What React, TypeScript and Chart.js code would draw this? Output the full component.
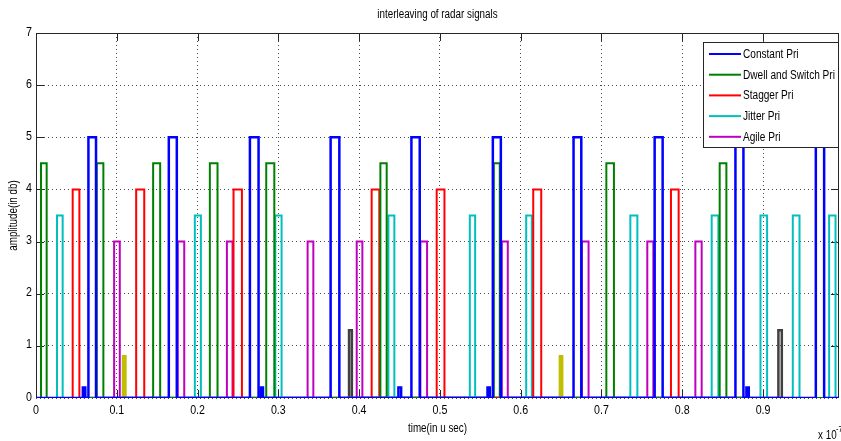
import React, { useEffect, useRef } from "react";
import { Chart, registerables } from "chart.js";

Chart.register(...registerables);

const X_MAX = 0.994;
const Y_MAX = 7;
const X_TICKS = [0, 0.1, 0.2, 0.3, 0.4, 0.5, 0.6, 0.7, 0.8, 0.9];
const Y_TICKS = [0, 1, 2, 3, 4, 5, 6, 7];
const X_TICK_LABELS = ["0", "0.1", "0.2", "0.3", "0.4", "0.5", "0.6", "0.7", "0.8", "0.9"];
const Y_TICK_LABELS = ["0", "1", "2", "3", "4", "5", "6", "7"];

const TITLE = "interleaving of radar signals";
const X_LABEL = "time(in u sec)";
const Y_LABEL = "amplitude(in db)";

const SERIES_LABELS = ["Constant Pri", "Dwell and Switch Pri", "Stagger Pri", "Jitter Pri", "Agile Pri"];
const SERIES_HEIGHTS = [5, 4.5, 4, 3.5, 3];

const constantPulses = [
  [0.0649, 0.0743], [0.1644, 0.1743], [0.2648, 0.2755], [0.3647, 0.3755], [0.4647, 0.475],
  [0.5655, 0.5754], [0.6654, 0.675], [0.7658, 0.7757], [0.8658, 0.8757], [0.9653, 0.9756],
];
const dwellPulses = [
  [0.0062, 0.0132], [0.0752, 0.0834], [0.145, 0.1537], [0.2152, 0.2247], [0.285, 0.295],
  [0.4263, 0.4341], [0.5667, 0.5741], [0.706, 0.7154], [0.8463, 0.8546],
];
const staggerPulses = [
  [0.0454, 0.0537], [0.124, 0.134], [0.2445, 0.2549], [0.4155, 0.425], [0.496, 0.5056],
  [0.6155, 0.6254], [0.786, 0.7955],
];
const jitterPulses = [
  [0.026, 0.033], [0.1966, 0.2041], [0.2962, 0.304], [0.4362, 0.4436], [0.537, 0.5436],
  [0.6068, 0.6138], [0.7357, 0.7444], [0.8364, 0.8447], [0.8968, 0.905], [0.9368, 0.9451],
  [0.9818, 0.9897],
];
const agilePulses = [
  [0.0967, 0.1037], [0.1755, 0.1835], [0.2363, 0.2433], [0.3362, 0.3433], [0.397, 0.404],
  [0.4758, 0.4841], [0.5766, 0.584], [0.6757, 0.684], [0.7567, 0.7642], [0.8162, 0.824],
];

// unlabeled small pulses
const smallBluePulses = [[0.058, 0.061], [0.278, 0.281], [0.4486, 0.452], [0.5589, 0.5617], [0.8794, 0.8823]];
const SMALL_BLUE_H = 0.2;
const yellowPulses = [[0.1078, 0.1107], [0.6485, 0.6513]];
const YELLOW_H = 0.8;
const darkPulses = [[0.3875, 0.391], [0.919, 0.9232]];
const DARK_H = 1.3;

const COLORS = ["#0000ff", "#008000", "#ff0000", "#00bfbf", "#bf00bf"];
const SMALL_COLORS = ["#0000ff", "#bfbf00", "#404040"];

const FONT = '"Liberation Sans", Arial, sans-serif';
const NARROW = 0.82;

function pulseLine(pulses: number[][], h: number, full: boolean) {
  const pts: { x: number; y: number }[] = [];
  if (full) pts.push({ x: 0, y: 0 });
  for (const [s, e] of pulses) {
    pts.push({ x: s, y: 0 }, { x: s, y: h }, { x: e, y: h }, { x: e, y: 0 });
  }
  if (full) pts.push({ x: X_MAX, y: 0 });
  return pts;
}

function narrowText(ctx: CanvasRenderingContext2D, text: string, x: number, y: number, size: number, align: CanvasTextAlign) {
  ctx.save();
  ctx.font = `${size}px ${FONT}`;
  ctx.textAlign = align;
  ctx.textBaseline = "middle";
  ctx.translate(x, y);
  ctx.scale(NARROW, 1);
  ctx.fillText(text, 0, 0);
  ctx.restore();
}

const decor = {
  id: "decor",
  beforeDatasetsDraw(chart: any) {
    const { ctx, chartArea: a, scales } = chart;
    const xs = scales.x, ys = scales.y;
    ctx.save();
    ctx.strokeStyle = "#262626";
    ctx.lineWidth = 1;
    ctx.strokeRect(Math.round(a.left) + 0.5, Math.round(a.top) + 0.5, Math.round(a.right - a.left) - 1, Math.round(a.bottom - a.top) - 1);
    const tl = 8;
    ctx.beginPath();
    for (const v of X_TICKS) {
      if (v === 0) continue;
      const px = Math.round(xs.getPixelForValue(v)) + 0.5;
      ctx.moveTo(px, a.bottom); ctx.lineTo(px, a.bottom - tl);
      ctx.moveTo(px, a.top); ctx.lineTo(px, a.top + tl);
    }
    for (const v of Y_TICKS) {
      if (v === 0 || v === Y_MAX) continue;
      const py = Math.round(ys.getPixelForValue(v)) + 0.5;
      ctx.moveTo(a.left, py); ctx.lineTo(a.left + tl, py);
      ctx.moveTo(a.right, py); ctx.lineTo(a.right - tl, py);
    }
    ctx.stroke();
    ctx.restore();
  },
  afterDraw(chart: any) {
    const { ctx, chartArea: a, scales } = chart;
    const xs = scales.x, ys = scales.y;
    ctx.save();
    ctx.fillStyle = "#000";
    X_TICKS.forEach((v, i) => {
      narrowText(ctx, X_TICK_LABELS[i], xs.getPixelForValue(v), a.bottom + 12, 13, "center");
    });
    Y_TICKS.forEach((v, i) => {
      narrowText(ctx, Y_TICK_LABELS[i], a.left - 4, ys.getPixelForValue(v) - 1, 13, "right");
    });
    const cx = (a.left + a.right) / 2;
    narrowText(ctx, TITLE, cx, 15, 12, "center");
    narrowText(ctx, X_LABEL, cx, 429, 12, "center");
    ctx.save();
    ctx.translate(14, (a.top + a.bottom) / 2);
    ctx.rotate(-Math.PI / 2);
    narrowText(ctx, Y_LABEL, 0, 0, 12, "center");
    ctx.restore();
    narrowText(ctx, "x 10", 818, 436, 12, "left");
    narrowText(ctx, "-7", 836, 430, 9, "left");

    // legend
    const lx = 703, ly = 42, lw = 135, lh = 105;
    ctx.fillStyle = "#fff";
    ctx.fillRect(lx, ly, lw, lh);
    ctx.strokeStyle = "#262626";
    ctx.lineWidth = 1;
    ctx.strokeRect(lx + 0.5, ly + 0.5, lw, lh);
    for (let i = 0; i < SERIES_LABELS.length; i++) {
      const y = 54 + i * 20.7;
      ctx.strokeStyle = COLORS[i];
      ctx.lineWidth = 2;
      ctx.beginPath();
      ctx.moveTo(709, y); ctx.lineTo(741, y);
      ctx.stroke();
      ctx.fillStyle = "#000";
      narrowText(ctx, SERIES_LABELS[i], 743, y + 0.5, 12.3, "left");
    }
    ctx.restore();
  },
};

export default function App() {
  const ref = useRef<HTMLCanvasElement | null>(null);
  useEffect(() => {
    document.body.style.margin = "0";
    const mainPulses = [constantPulses, dwellPulses, staggerPulses, jitterPulses, agilePulses];
    const datasets: any[] = mainPulses.map((p, i) => ({
      label: SERIES_LABELS[i],
      data: pulseLine(p, SERIES_HEIGHTS[i], true),
      borderColor: COLORS[i],
      backgroundColor: COLORS[i],
      borderWidth: i === 0 ? 2.5 : 2,
      pointRadius: 0,
      fill: false,
      tension: 0,
    }));
    const extras = [
      [smallBluePulses, SMALL_BLUE_H],
      [yellowPulses, YELLOW_H],
      [darkPulses, DARK_H],
    ] as [number[][], number][];
    extras.forEach(([p, h], i) => {
      datasets.push({
        label: "",
        data: pulseLine(p, h, false),
        borderColor: SMALL_COLORS[i],
        backgroundColor: SMALL_COLORS[i],
        borderWidth: 2.5,
        pointRadius: 0,
        fill: false,
        tension: 0,
      });
    });
    const chart = new Chart(ref.current as HTMLCanvasElement, {
      type: "line",
      data: { datasets },
      options: {
        animation: false,
        responsive: true,
        maintainAspectRatio: false,
        layout: { padding: { top: 33, right: 2, left: 0, bottom: 0 } },
        plugins: { legend: { display: false }, tooltip: { enabled: false }, title: { display: false } },
        scales: {
          x: {
            type: "linear",
            min: 0,
            max: X_MAX,
            afterFit: (s: any) => { s.height = 43; },
            afterBuildTicks: (s: any) => { s.ticks = X_TICKS.map((v) => ({ value: v })); },
            ticks: { display: false, includeBounds: false, autoSkip: false, maxRotation: 0 },
            grid: { color: "rgba(0,0,0,0.7)", lineWidth: 1, drawTicks: false } as any,
            border: { display: false, dash: [1, 3] },
          },
          y: {
            type: "linear",
            min: 0,
            max: Y_MAX,
            afterFit: (s: any) => { s.width = 36; },
            afterBuildTicks: (s: any) => { s.ticks = Y_TICKS.map((v) => ({ value: v })); },
            ticks: { display: false },
            grid: { color: "rgba(0,0,0,0.7)", lineWidth: 1, drawTicks: false } as any,
            border: { display: false, dash: [1, 3] },
          },
        },
      } as any,
      plugins: [decor],
    });
    return () => chart.destroy();
  }, []);
  return (
    <div style={{ width: 841, height: 441, position: "relative" }}>
      <canvas ref={ref} />
    </div>
  );
}
